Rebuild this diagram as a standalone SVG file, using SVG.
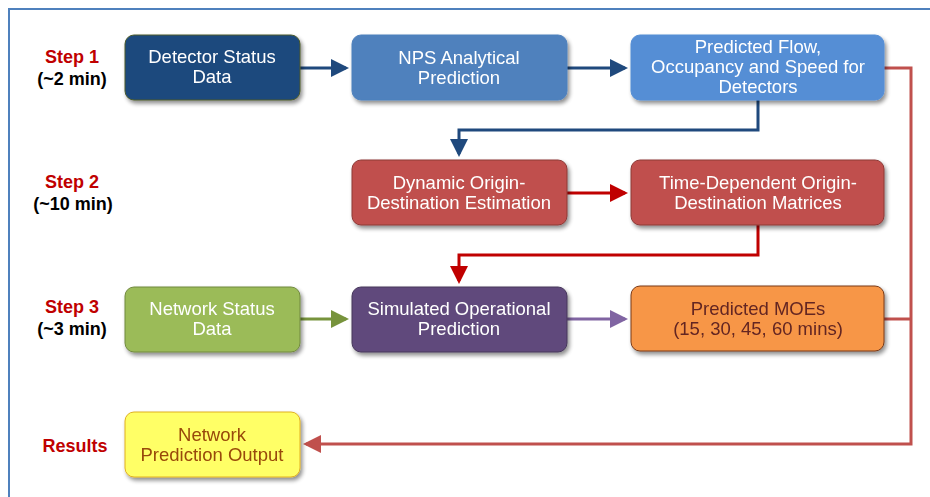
<svg xmlns="http://www.w3.org/2000/svg" width="930" height="497" viewBox="0 0 930 497">
<style>
.lbl{font-family:"Liberation Sans",Arial,sans-serif;font-weight:bold;font-size:18px;text-anchor:middle}
.step{fill:#c00000}
.tm{fill:#000}
.nt{font-family:"Liberation Sans",Arial,sans-serif;font-size:18.5px;text-anchor:middle;fill:#fff}
.box{stroke-width:1}
.c{fill:none;stroke-width:3}
</style>
<defs>
<filter id="sh" x="-10%" y="-10%" width="125%" height="135%">
<feGaussianBlur in="SourceAlpha" stdDeviation="2"/>
<feOffset dx="2" dy="3"/>
<feComponentTransfer><feFuncA type="linear" slope="0.45"/></feComponentTransfer>
<feMerge><feMergeNode/><feMergeNode in="SourceGraphic"/></feMerge>
</filter>
<marker id="aB" markerWidth="6" markerHeight="6" refX="5" refY="3" orient="auto" markerUnits="strokeWidth"><path d="M0,0L6,3L0,6z" fill="#1f497d"/></marker>
<marker id="aR" markerWidth="6" markerHeight="6" refX="5" refY="3" orient="auto" markerUnits="strokeWidth"><path d="M0,0L6,3L0,6z" fill="#c00000"/></marker>
<marker id="aG" markerWidth="6" markerHeight="6" refX="5" refY="3" orient="auto" markerUnits="strokeWidth"><path d="M0,0L6,3L0,6z" fill="#77933c"/></marker>
<marker id="aP" markerWidth="6" markerHeight="6" refX="5" refY="3" orient="auto" markerUnits="strokeWidth"><path d="M0,0L6,3L0,6z" fill="#8064a2"/></marker>
<marker id="aL" markerWidth="6" markerHeight="6" refX="5" refY="3" orient="auto" markerUnits="strokeWidth"><path d="M0,0L6,3L0,6z" fill="#c0504d"/></marker>
</defs>
<rect x="0" y="0" width="930" height="497" fill="#fff"/>
<rect x="9" y="9" width="960" height="520" fill="none" stroke="#4f81bd" stroke-width="2"/>

<g id="labels">
<text class="lbl step" x="72" y="63">Step 1</text>
<text class="lbl tm" x="72" y="85">(~2 min)</text>
<text class="lbl step" x="72" y="188">Step 2</text>
<text class="lbl tm" x="73" y="210">(~10 min)</text>
<text class="lbl step" x="72" y="313">Step 3</text>
<text class="lbl tm" x="72" y="335">(~3 min)</text>
<text class="lbl step" x="75" y="452">Results</text>
</g>

<g id="connectors">
<path class="c" d="M300,68H346" stroke="#1f497d" marker-end="url(#aB)"/>
<path class="c" d="M567,68H625" stroke="#1f497d" marker-end="url(#aB)"/>
<path class="c" d="M758,100V130H459V154" stroke="#1f497d" marker-end="url(#aB)"/>
<path class="c" d="M567,193H625" stroke="#c00000" marker-end="url(#aR)"/>
<path class="c" d="M758,225V255H459V281" stroke="#c00000" marker-end="url(#aR)"/>
<path class="c" d="M300,319H346" stroke="#77933c" marker-end="url(#aG)"/>
<path class="c" d="M567,319H625" stroke="#8064a2" marker-end="url(#aP)"/>
<path class="c" d="M884,68H911V444H306" stroke="#c0504d" marker-end="url(#aL)"/>
<path class="c" d="M884,319H911" stroke="#c0504d"/>
</g>

<g id="n1" filter="url(#sh)">
<rect class="box" x="125" y="35" width="175" height="65" rx="9" fill="#1f497d" stroke="#4a5a2a"/>
<text class="nt" x="212" y="63">Detector Status</text>
<text class="nt" x="212" y="83">Data</text>
</g>
<g id="n2" filter="url(#sh)">
<rect class="box" x="352" y="35" width="215" height="65" rx="9" fill="#4f81bd" stroke="#4f81bd"/>
<text class="nt" x="459" y="64">NPS Analytical</text>
<text class="nt" x="459" y="84">Prediction</text>
</g>
<g id="n3" filter="url(#sh)">
<rect class="box" x="631" y="35" width="253" height="65" rx="9" fill="#558ed5" stroke="#558ed5"/>
<text class="nt" x="758" y="53">Predicted Flow,</text>
<text class="nt" x="758" y="73">Occupancy and Speed for</text>
<text class="nt" x="758" y="93">Detectors</text>
</g>
<g id="n4" filter="url(#sh)">
<rect class="box" x="352" y="160" width="215" height="65" rx="9" fill="#c0504d" stroke="#8c3836"/>
<text class="nt" x="459" y="189">Dynamic Origin-</text>
<text class="nt" x="459" y="209">Destination Estimation</text>
</g>
<g id="n5" filter="url(#sh)">
<rect class="box" x="631" y="160" width="253" height="65" rx="9" fill="#c0504d" stroke="#8c3836"/>
<text class="nt" x="758" y="189">Time-Dependent Origin-</text>
<text class="nt" x="758" y="209">Destination Matrices</text>
</g>
<g id="n6" filter="url(#sh)">
<rect class="box" x="125" y="287" width="175" height="65" rx="9" fill="#9bbb59" stroke="#71893f"/>
<text class="nt" x="212" y="315">Network Status</text>
<text class="nt" x="212" y="335">Data</text>
</g>
<g id="n7" filter="url(#sh)">
<rect class="box" x="352" y="287" width="215" height="65" rx="9" fill="#604a7b" stroke="#46365a"/>
<text class="nt" x="459" y="315">Simulated Operational</text>
<text class="nt" x="459" y="335">Prediction</text>
</g>
<g id="n8" filter="url(#sh)">
<rect class="box" x="631" y="286" width="253" height="65" rx="9" fill="#f79646" stroke="#7a3a18"/>
<text class="nt" x="758" y="315" style="fill:#632523">Predicted MOEs</text>
<text class="nt" x="758" y="335" style="fill:#632523">(15, 30, 45, 60 mins)</text>
</g>
<g id="n9" filter="url(#sh)">
<rect class="box" x="125" y="412" width="175" height="65" rx="9" fill="#ffff66" stroke="#e0b020"/>
<text class="nt" x="212" y="441" style="fill:#984807">Network</text>
<text class="nt" x="212" y="461" style="fill:#984807">Prediction Output</text>
</g>
</svg>
